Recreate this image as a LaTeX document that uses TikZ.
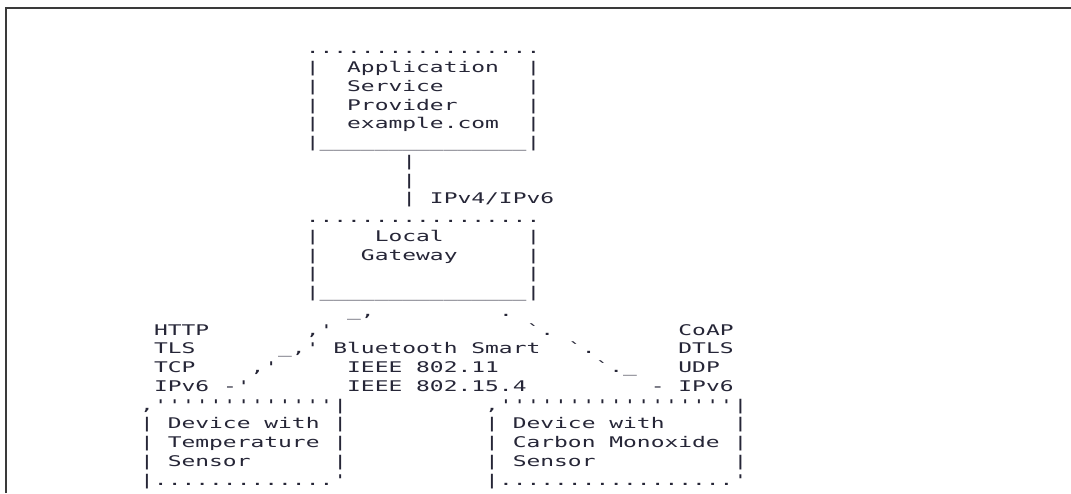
\documentclass[tikz,border=0pt]{standalone}
\usepackage{fontspec}
\usepackage{graphicx}
\setmonofont{DejaVu Sans Mono}
\definecolor{ink}{HTML}{262637}
\definecolor{framegray}{HTML}{3A3A3A}
% one character cell: 13.8 wide, rows 18.75 apart, first baseline at 53.75
\newcommand\putrow[4]{\node[glyphs] (#1) at ({154+13.8*(#2)},{53.75+18.75*(#3)}) {\scalebox{1.559}[1]{#4}};}
\begin{document}
\begin{tikzpicture}[x=1pt,y=-1pt,
  glyphs/.style={inner sep=0pt, outer sep=0pt, anchor=base west, text=ink,
    font=\ttfamily\fontsize{14.7}{18.75}\selectfont},
  frame/.style={draw=framegray, line width=1.8pt, line join=miter}]
\useasboundingbox (0,0) rectangle (1071,493);
\draw[frame] (6,493) -- (6,8) -- (1071,8);

% application service provider
\putrow{asp0}{11}{0}{.................}
\putrow{asp1}{11}{1}{|~~Application~~|}
\putrow{asp2}{11}{2}{|~~Service~~~~~~|}
\putrow{asp3}{11}{3}{|~~Provider~~~~~|}
\putrow{asp4}{11}{4}{|~~example.com~~|}
\putrow{asp5}{11}{5}{|\_\_\_\_\_\_\_\_\_\_\_\_\_\_\_|}

% uplink
\putrow{up6}{18}{6}{|}
\putrow{up7}{18}{7}{|}
\putrow{up8}{18}{8}{|~IPv4/IPv6}

% local gateway
\putrow{gw9}{11}{9}{.................}
\putrow{gw10}{11}{10}{|~~~~Local~~~~~~|}
\putrow{gw11}{11}{11}{|~~~Gateway~~~~~|}
\putrow{gw12}{11}{12}{|~~~~~~~~~~~~~~~|}
\putrow{gw13}{11}{13}{|\_\_\_\_\_\_\_\_\_\_\_\_\_\_\_|}

% links towards the devices
\putrow{l14}{14}{14}{\_,}
\putrow{r14}{25}{14}{.}
\putrow{http}{0}{15}{HTTP}
\putrow{l15}{11}{15}{,'}
\putrow{r15}{27}{15}{`.}
\putrow{coap}{38}{15}{CoAP}
\putrow{tls}{0}{16}{TLS}
\putrow{l16}{9}{16}{\_,'}
\putrow{bt}{13}{16}{Bluetooth~Smart}
\putrow{r16}{30}{16}{`.}
\putrow{dtls}{38}{16}{DTLS}
\putrow{tcp}{0}{17}{TCP}
\putrow{l17}{7}{17}{,'}
\putrow{wifi}{14}{17}{IEEE~802.11}
\putrow{r17}{32}{17}{`.\_}
\putrow{udp}{38}{17}{UDP}
\putrow{ipl}{0}{18}{IPv6}
\putrow{l18}{5}{18}{-'}
\putrow{lowpan}{14}{18}{IEEE~802.15.4}
\putrow{r18}{36}{18}{-}
\putrow{ipr}{38}{18}{IPv6}

% temperature sensor device
\putrow{ts19}{-1}{19}{,'''''''''''''|}
\putrow{ts20}{-1}{20}{|~Device~with~|}
\putrow{ts21}{-1}{21}{|~Temperature~|}
\putrow{ts22}{-1}{22}{|~Sensor~~~~~~|}
\putrow{ts23}{-1}{23}{|.............'}

% carbon monoxide sensor device
\putrow{co19}{24}{19}{,'''''''''''''''''|}
\putrow{co20}{24}{20}{|~Device~with~~~~~|}
\putrow{co21}{24}{21}{|~Carbon~Monoxide~|}
\putrow{co22}{24}{22}{|~Sensor~~~~~~~~~~|}
\putrow{co23}{24}{23}{|.................'}
\end{tikzpicture}
\end{document}
